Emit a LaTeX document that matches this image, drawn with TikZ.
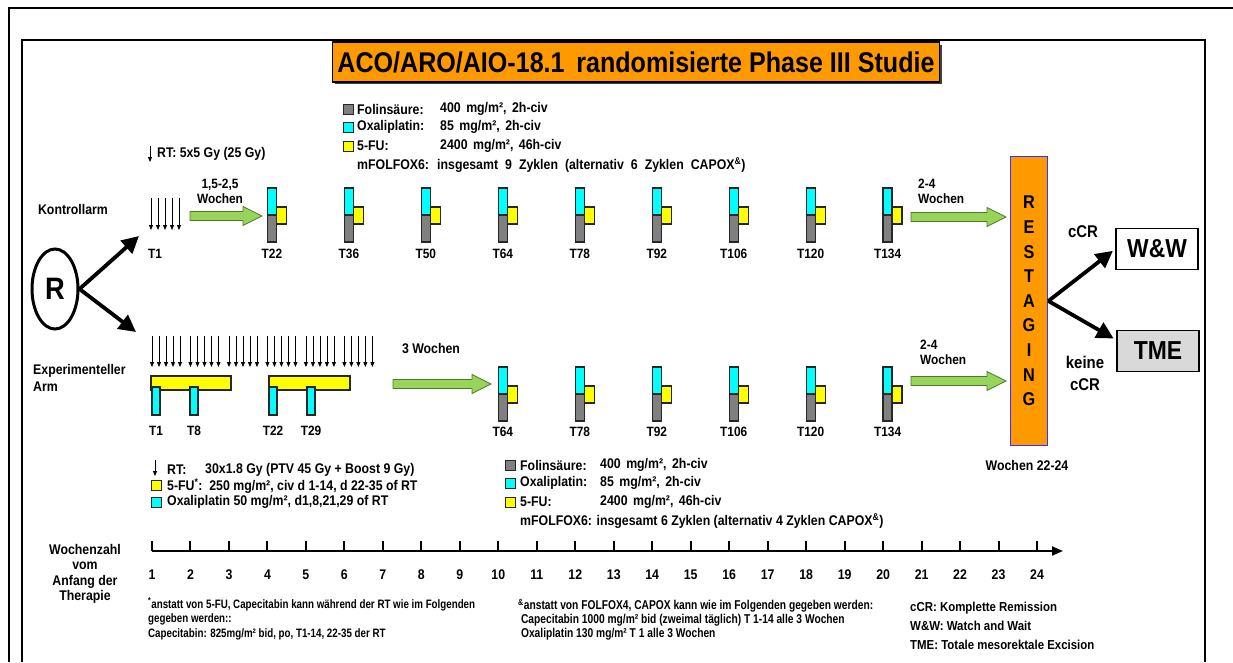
\documentclass[tikz,border=0pt]{standalone}
\usepackage{fontspec}
\setmainfont{Liberation Sans}[FakeStretch=0.88]
\newfontfamily\schmal{Liberation Sans}[FakeStretch=0.8]
\usepackage{tikz}
\usetikzlibrary{arrows.meta,shapes.geometric,positioning}

\definecolor{orangeT}{HTML}{FF9900}
\definecolor{cyanT}{HTML}{00FFFF}
\definecolor{gelbT}{HTML}{FFFF00}
\definecolor{grauT}{HTML}{808080}
\definecolor{gruenT}{HTML}{96D45A}
\definecolor{blauT}{HTML}{3333FF}
\definecolor{hellgrauT}{HTML}{D9D9D9}

\newcommand{\fsz}[1]{\fontsize{#1}{#1}\selectfont}
\newcommand{\weit}[1]{\spaceskip=#1\relax}
\newcommand{\zyklus}[2]{%
  \draw[fb,fill=cyanT] (#1,#2) rectangle ++(9,27);
  \draw[fb,fill=grauT] (#1,#2+27) rectangle ++(9,27);
  \draw[fb,fill=gelbT] (#1+9,#2+19) rectangle ++(10,17);}
\newcommand{\gpfeil}[3]{%
  \draw[fill=gruenT,draw=gruenT!55!black,line width=0.8pt]
    (#1,#3-4.5) -- (#2-19,#3-4.5) -- (#2-19,#3-9.5) -- (#2,#3)
    -- (#2-19,#3+9.5) -- (#2-19,#3+4.5) -- (#1,#3+4.5) -- cycle;}

\begin{document}
\begin{tikzpicture}[x=1pt,y=-1pt,
  fb/.style={draw=black!85,line width=1.3pt},
  txt/.style={font=\bfseries\fsz{14},inner sep=0pt},
  leg/.style={txt,anchor=west},
  tlab/.style={font=\bfseries\fsz{13.5},inner sep=0pt},
  fuss/.style={inner sep=0pt,anchor=west,align=left},
  rt/.style={line width=0.8pt,-{Triangle[length=5pt,width=4pt]}},
  dick/.style={line width=3.8pt,-{Triangle[length=17pt,width=17pt]}}]
\useasboundingbox (0,0) rectangle (1233,662);
% Rahmen
\draw[line width=1.5pt] (9,662) -- (9,8) -- (1233,8);
\draw[line width=2pt] (22,662) -- (22,40) -- (1205,40) -- (1205,662);
% Titel
\fill[black!75] (335,45) rectangle (942,84);
\node[draw,fill=orangeT,line width=1.5pt,minimum width=607pt,minimum height=40pt,
  inner sep=0pt,font=\bfseries\fsz{28.5}] (titel) at (636,62)
  {ACO/ARO/AIO-18.1\, randomisierte Phase III Studie};

% Legende oben
\foreach \y/\f in {109/grauT,127/cyanT,146/gelbT}
  \draw[fb,line width=1pt,fill=\f] (343,\y-5) rectangle ++(10,10);
\node[leg] (fol1) at (357,109) {Folinsäure:};
\node[leg] (fol1w) at (440,109) {\weit{5.5pt}400 mg/m², 2h-civ};
\node[leg] (oxa1) at (357,127) {Oxaliplatin:};
\node[leg] (oxa1w) at (440,127) {\weit{5.5pt}85 mg/m², 2h-civ};
\node[leg] (fu1) at (357,146) {5-FU:};
\node[leg] (fu1w) at (440,146) {\weit{5.5pt}2400 mg/m², 46h-civ};
\node[leg] (mf1) at (357,165) {\weit{7pt}mFOLFOX6: insgesamt 9 Zyklen (alternativ 6 Zyklen CAPOX\textsuperscript{\&})};

% Randomisierung
\node[draw,ellipse,line width=3pt,minimum width=46pt,minimum height=80pt,
  inner sep=0pt,font=\bfseries\fsz{31}] (R) at (55,289) {R};
\coordinate (kpfeil) at (139,236);
\coordinate (epfeil) at (136,332);
\draw[dick] (R.east) -- (kpfeil);
\draw[dick] (R.east) -- (epfeil);

% Kontrollarm
\node[txt] (kontrolle) at (73,209) {Kontrollarm};
\draw[rt] (150,146) -- (150,162);
\node[leg] (rt1) at (157,154) {RT: 5x5 Gy (25 Gy)};
\foreach \i in {0,...,4}
  \draw[rt] ({151+\i*7},198) -- ++(0,32);
\node[tlab] (k1) at (155,254) {T1};
\gpfeil{190}{262}{216}
\node[align=center,inner sep=0pt,font=\bfseries\fontsize{13.5}{15}\selectfont] (wk1)
  at (220,191) {1,5-2,5\\Wochen};
\foreach \d in {22,36,50,64,78,92,106,120,134} {
  \pgfmathsetmacro{\xx}{152+(\d-1)/7*38.48}
  \zyklus{\xx}{188}
  \node[tlab] (k\d) at (\xx+4.5,254) {T\d};
}
\gpfeil{911}{1006}{217}
\node[align=left,anchor=west,inner sep=0pt,font=\bfseries\fontsize{13.5}{15}\selectfont] (wk2)
  at (918,191) {2-4\\Wochen};

% Experimenteller Arm
\node[anchor=west,align=left,inner sep=0pt,font=\bfseries\fontsize{14}{17}\selectfont]
  (experiment) at (33,378) {Experimenteller\\Arm};
\foreach \w in {0,...,5}
  \foreach \i in {0,...,4}
    \draw[rt] ({152+\w*38.48+\i*7},336) -- ++(0,31);
\draw[fb,fill=gelbT] (151,376) rectangle (231,390);
\draw[fb,fill=gelbT] (269,376) rectangle (350,390);
\foreach \x in {152,190,269,307}
  \draw[fb,fill=cyanT] (\x,387) rectangle ++(8,28);
\node[tlab] (e1) at (156,431) {T1};
\node[tlab] (e8) at (194,431) {T8};
\node[tlab] (e22) at (273,431) {T22};
\node[tlab] (e29) at (311,431) {T29};
\gpfeil{393}{491}{384}
\node[txt] (wk3) at (431,348) {3 Wochen};
\foreach \d in {64,78,92,106,120,134} {
  \pgfmathsetmacro{\xx}{152+(\d-1)/7*38.48}
  \zyklus{\xx}{367}
  \node[tlab] (e\d) at (\xx+4.5,432) {T\d};
}
\gpfeil{911}{1006}{381}
\node[align=left,anchor=west,inner sep=0pt,font=\bfseries\fontsize{13.5}{15}\selectfont] (wk4)
  at (920,352) {2-4\\Wochen};

% Restaging
\node[draw=blauT,fill=orangeT,line width=1.8pt,minimum width=37pt,minimum height=289pt,
  inner sep=0pt,align=center,font=\bfseries\fontsize{18.5}{24.6}\selectfont] (rest)
  at (1029,301) {R\\E\\S\\T\\A\\G\\I\\N\\G};
\node[txt] (woche) at (1027,465) {Wochen 22-24};
\node[draw,fill=white,line width=1.5pt,minimum width=82pt,minimum height=41pt,
  inner sep=0pt,font=\bfseries\fsz{26}] (ww) at (1157,249) {W\&W};
\node[draw,fill=hellgrauT,line width=1.5pt,minimum width=82pt,minimum height=41pt,
  inner sep=0pt,font=\bfseries\fsz{26}] (tme) at (1158,351) {TME};
\draw[dick,shorten >=3pt] (rest.east) -- (ww.west);
\draw[dick,shorten >=3pt] (rest.east) -- ([yshift=11pt]tme.west);
\node[inner sep=0pt,font=\bfseries\fsz{17}] (ccr) at (1083,232) {cCR};
\node[align=center,inner sep=0pt,font=\bfseries\fontsize{17}{22}\selectfont] (keine)
  at (1085,373) {keine\\cCR};

% Legende unten links
\draw[rt] (155,460) -- (155,476);
\node[leg] (rt2) at (167,470) {RT:};
\node[leg] (rt2w) at (205,470) {30x1.8 Gy (PTV 45 Gy + Boost 9 Gy)};
\draw[fb,line width=1pt,fill=gelbT] (151,480) rectangle ++(10,10);
\node[leg] (fu2) at (167,486) {5-FU\textsuperscript{*}:\ \ 250 mg/m², civ d 1-14, d 22-35 of RT};
\draw[fb,line width=1pt,fill=cyanT] (151,497) rectangle ++(10,10);
\node[leg] (oxa2) at (167,502) {Oxaliplatin 50 mg/m², d1,8,21,29 of RT};

% Legende unten Mitte
\foreach \y/\f in {465/grauT,483/cyanT,502/gelbT}
  \draw[fb,line width=1pt,fill=\f] (505,\y-5) rectangle ++(10,10);
\node[leg] (fol3) at (520,465) {Folinsäure:};
\node[leg] (fol3w) at (600,465) {\weit{5.5pt}400 mg/m², 2h-civ};
\node[leg] (oxa3) at (520,483) {Oxaliplatin:};
\node[leg] (oxa3w) at (600,483) {\weit{5.5pt}85 mg/m², 2h-civ};
\node[leg] (fu3) at (520,502) {5-FU:};
\node[leg] (fu3w) at (600,502) {\weit{5.5pt}2400 mg/m², 46h-civ};
\node[leg] (mf3) at (520,521) {mFOLFOX6: insgesamt 6 Zyklen (alternativ 4 Zyklen CAPOX\textsuperscript{\&})};

% Zeitachse
\node[align=center,inner sep=0pt,font=\bfseries\fontsize{14}{15.3}\selectfont] (wz)
  at (85,574) {Wochenzahl\\vom\\Anfang der\\Therapie};
\coordinate (a0) at (152,551);
\coordinate (a1) at (1063,551);
\draw[line width=2pt,-{Triangle[length=11pt,width=9pt]}] (a0) -- (a1);
\foreach \w in {1,...,24} {
  \draw[line width=2pt] ({152+(\w-1)*38.48},551) -- ++(0,-10);
  \node[txt] (n\w) at ({152+(\w-1)*38.48},575) {\w};
}

% Fussnoten
\node[fuss,font=\schmal\bfseries\fontsize{12.2}{14.5}\selectfont] (fn1) at (148,619)
  {\textsuperscript{*}anstatt von 5-FU, Capecitabin kann während der RT wie im Folgenden\\
   gegeben werden::\\Capecitabin: 825mg/m² bid, po, T1-14, 22-35 der RT};
\node[fuss,font=\schmal\bfseries\fontsize{12.8}{14}\selectfont] (fn2) at (518,620)
  {\textsuperscript{\&}anstatt von FOLFOX4, CAPOX kann wie im Folgenden gegeben werden:\\
   \ Capecitabin 1000 mg/m² bid (zweimal täglich) T 1-14 alle 3 Wochen\\
   \ Oxaliplatin 130 mg/m² T 1 alle 3 Wochen};
\node[fuss,font=\bfseries\fontsize{13}{19}\selectfont] (fn3) at (910,626)
  {cCR: Komplette Remission\\W\&W: Watch and Wait\\TME: Totale mesorektale Excision};
\end{tikzpicture}
\end{document}
